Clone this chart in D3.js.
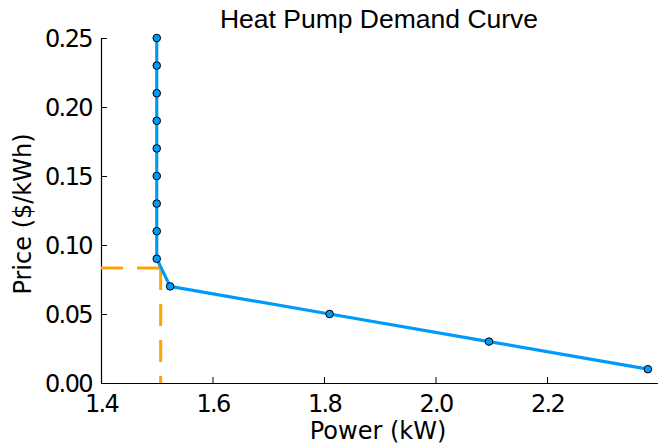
<!DOCTYPE html>
<html>
<head>
<meta charset="utf-8">
<script src="https://cdn.jsdelivr.net/npm/d3@7"></script>
<style>
  body { margin: 0; background: #fff; }
  svg { display: block; }
</style>
</head>
<body>
<div id="chart"></div>
<script>
// demand curve points
const power = [1.5, 1.5, 1.5, 1.5, 1.5, 1.5, 1.5, 1.5, 1.5, 1.524, 1.81, 2.096, 2.381]
const price = [0.25, 0.23, 0.21, 0.19, 0.17, 0.15, 0.13, 0.11, 0.09, 0.07, 0.05, 0.03, 0.01]
// clearing point (dashed guide)
const clearPower = [1.507]
const clearPrice = [0.0833]
const xTicks = [1.4, 1.6, 1.8, 2.0, 2.2]
const yTicks = [0.00, 0.05, 0.10, 0.15, 0.20, 0.25]

let width = 658
let height = 446
let plotLeft = 101, plotRight = 658.5, plotTop = 38, plotBottom = 383

let svg = d3.select("#chart").append("svg")
    .attr("width", width)
    .attr("height", height)

let x = d3.scaleLinear().domain([1.4, 2.4]).range([plotLeft, plotRight])
let y = d3.scaleLinear().domain([0, 0.25]).range([plotBottom, plotTop])

const tickFont = "DejaVu Sans"

// x axis
let xAxis = svg.append("g")
    .attr("transform", "translate(0," + plotBottom + ")")
    .call(d3.axisBottom(x).tickValues(xTicks).tickFormat(d3.format(".1f")).tickSizeInner(-6).tickSizeOuter(0).tickPadding(12))
xAxis.select(".domain").attr("stroke", "#000").attr("stroke-width", 1.2)
xAxis.selectAll(".tick line").attr("stroke", "#000")
xAxis.selectAll("text")
    .attr("font-family", tickFont).attr("font-size", 24).attr("fill", "#000")
    .attr("letter-spacing", "-1.8px")
    .attr("y", 29).attr("dy", 0)

// y axis
let yAxis = svg.append("g")
    .attr("transform", "translate(" + plotLeft + ",0)")
    .call(d3.axisLeft(y).tickValues(yTicks).tickFormat(d3.format(".2f")).tickSizeInner(-6).tickSizeOuter(0).tickPadding(10))
yAxis.select(".domain").attr("stroke", "#000").attr("stroke-width", 1.2)
yAxis.selectAll(".tick line").attr("stroke", "#000")
yAxis.selectAll("text")
    .attr("font-family", tickFont).attr("font-size", 24).attr("fill", "#000")
    .attr("letter-spacing", "-1.6px")
    .attr("x", -9).attr("dy", "0.36em")

// orange dashed guides
svg.append("line")
    .attr("x1", x(1.4)).attr("x2", x(clearPower[0]))
    .attr("y1", y(clearPrice[0])).attr("y2", y(clearPrice[0]))
    .attr("stroke", "#FFA500").attr("stroke-width", 3)
    .attr("stroke-dasharray", "22,14")
svg.append("line")
    .attr("x1", x(clearPower[0])).attr("x2", x(clearPower[0]))
    .attr("y1", y(clearPrice[0])).attr("y2", y(0))
    .attr("stroke", "#FFA500").attr("stroke-width", 3)
    .attr("stroke-dasharray", "22,14")

// demand curve
let pts = power.map((p, i) => [p, price[i]])
svg.append("path")
    .datum(pts)
    .attr("d", d3.line().x(d => x(d[0])).y(d => y(d[1])))
    .attr("fill", "none")
    .attr("stroke", "#009AFA")
    .attr("stroke-width", 3.2)
    .attr("stroke-linejoin", "round")

svg.selectAll("circle.pt")
    .data(pts)
    .enter()
    .append("circle")
    .attr("class", "pt")
    .attr("cx", d => x(d[0]))
    .attr("cy", d => y(d[1]))
    .attr("r", 3.8)
    .attr("fill", "#009AFA")
    .attr("stroke", "#000")
    .attr("stroke-width", 1)

// titles
svg.append("text")
    .text("Heat Pump Demand Curve")
    .attr("x", 379).attr("y", 28)
    .attr("text-anchor", "middle")
    .attr("font-family", "Liberation Sans")
    .attr("font-size", 26.5)
    .attr("fill", "#000")

svg.append("text")
    .text("Power (kW)")
    .attr("x", 378).attr("y", 439)
    .attr("text-anchor", "middle")
    .attr("font-family", "DejaVu Sans")
    .attr("font-size", 24)
    .attr("fill", "#000")

svg.append("text")
    .text("Price ($/kWh)")
    .attr("transform", "translate(31," + 214 + ") rotate(-90)")
    .attr("text-anchor", "middle")
    .attr("font-family", "DejaVu Sans")
    .attr("font-size", 24)
    .attr("fill", "#000")
</script>
</body>
</html>
